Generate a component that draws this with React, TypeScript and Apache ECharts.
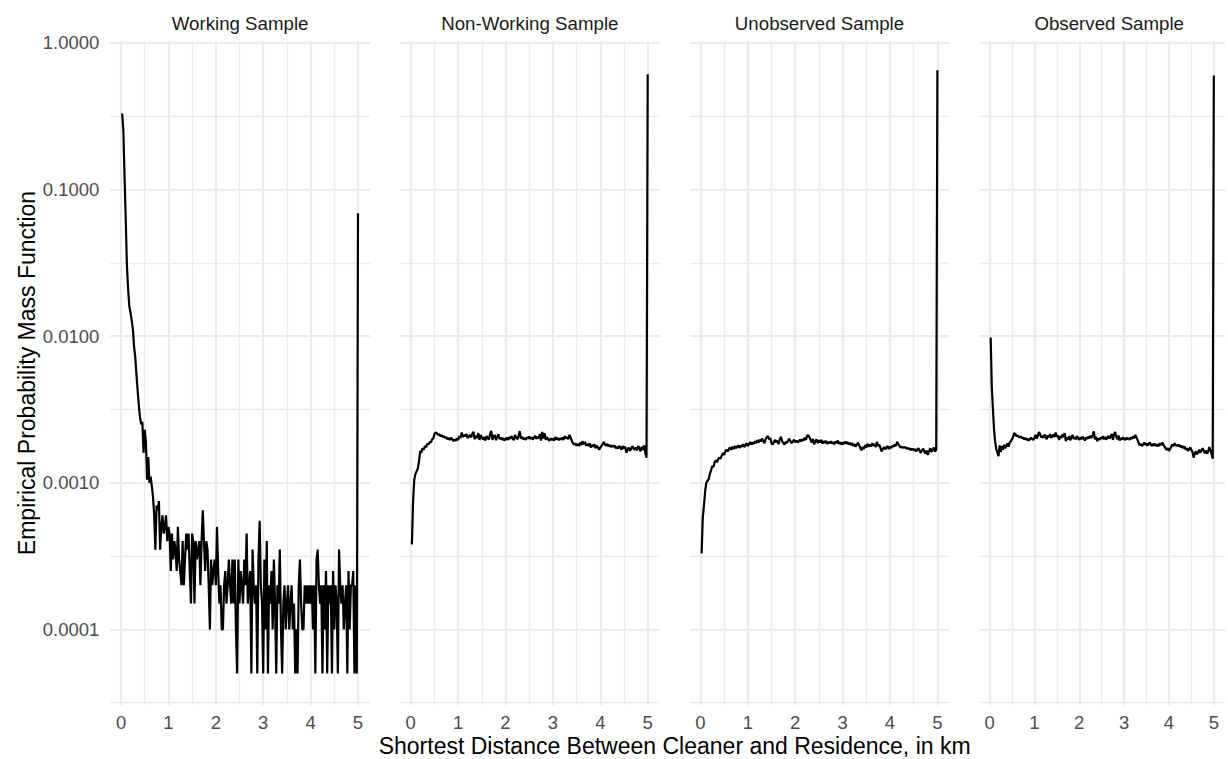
import React, { useEffect, useRef } from "react";
import * as echarts from "echarts";

// ---------- data ----------
const PANELS = ["Working Sample", "Non-Working Sample", "Unobserved Sample", "Observed Sample"];
const BIN_WIDTH = 0.025; // km, bin k sits at x = k * BIN_WIDTH (last bin = 5 km, capped mass)
const X_TICKS = [0, 1, 2, 3, 4, 5];
const Y_TICKS = [1, 0.1, 0.01, 0.001, 0.0001];

const working = [
  0.33, 0.25, 0.12, 0.062, 0.03, 0.021, 0.016, 0.0145, 0.0128, 0.0112,
  0.0085, 0.0072, 0.0055, 0.0043, 0.0034, 0.0028, 0.0025, 0.0026, 0.0016, 0.0023,
  0.0019, 0.00105, 0.0015, 0.001, 0.0011, 0.00095, 0.0008, 0.0006, 0.00035, 0.0007,
  0.00065, 0.00075, 0.00035, 0.0005, 0.0006, 0.00045, 0.0005, 0.0006, 0.0004, 0.0005,
  0.00045, 0.00025, 0.00045, 0.0003, 0.0004, 0.00035, 0.00025, 0.0005, 0.0003, 0.00025,
  0.0002, 0.0004, 0.0002, 0.0003, 0.00045, 0.00035, 0.00045, 0.00025, 0.00015, 0.00045,
  0.0004, 0.00015, 0.0004, 0.0003, 0.00035, 0.0004, 0.0002, 0.0004, 0.00065, 0.0004,
  0.00025, 0.0004, 0.00035, 0.0002, 0.0001, 0.0003, 0.0002, 0.00025, 0.0003, 0.0002,
  0.0005, 0.00025, 0.00015, 0.0002, 0.0001, 0.0001, 0.0002, 0.00025, 0.00015, 0.0002,
  0.0003, 0.0002, 0.00015, 0.0003, 0.00015, 0.0003, 0.0001, 0.00005, 0.0003, 0.00015,
  0.00025, 0.0002, 0.00015, 0.0003, 0.0002, 0.00045, 0.00015, 0.0002, 0.00025, 0.00005,
  0.00035, 0.0002, 0.00015, 0.0002, 0.00005, 0.0003, 0.00055, 0.0002, 0.00015, 0.00005,
  0.0003, 0.0001, 0.0004, 0.00005, 0.0002, 0.00015, 0.00025, 0.0001, 0.0003, 0.00015,
  0.00005, 0.0002, 0.00015, 0.00035, 0.0001, 0.00005, 0.00015, 0.0002, 0.0001, 0.00015,
  0.0002, 0.0001, 0.00015, 0.0002, 0.0001, 0.00015, 0.00005, 0.0001, 0.00005, 0.0002,
  0.0003, 0.00015, 0.0001, 0.0001, 0.0002, 0.00015, 0.0002, 0.00015, 0.0002, 0.00015,
  0.0002, 0.0001, 0.0002, 0.00005, 0.0003, 0.00035, 0.0002, 0.00015, 0.0002, 0.00005,
  0.0002, 0.0001, 0.00025, 0.00005, 0.0002, 0.00015, 0.0002, 0.00005, 0.00025, 0.0001,
  0.0002, 0.00015, 0.00005, 0.00035, 0.0002, 0.00015, 0.0002, 0.0001, 0.00015, 0.0002,
  0.00005, 0.00025, 0.0001, 0.0002, 0.0002, 0.00025, 0.00005, 0.0002, 0.00005, 0.069,
];

const nonWorking = [
  0.00038, 0.00075, 0.00105, 0.00115, 0.0012, 0.00125, 0.0014, 0.00165, 0.0016, 0.00172,
  0.00168, 0.00178, 0.00175, 0.00185, 0.00182, 0.0019, 0.00188, 0.00198, 0.002, 0.00215,
  0.0022, 0.00218, 0.00212, 0.00215, 0.00208, 0.00212, 0.00205, 0.00208, 0.00202, 0.00205,
  0.00198, 0.00202, 0.00196, 0.00203, 0.00198, 0.00192, 0.00197, 0.00194, 0.002, 0.00196,
  0.00208, 0.00202, 0.0022, 0.00205, 0.00212, 0.00208, 0.00215, 0.00202, 0.00206, 0.00212,
  0.00204, 0.00216, 0.00222, 0.00198, 0.0021, 0.00202, 0.00218, 0.00196, 0.00212, 0.00203,
  0.00198, 0.00205, 0.00194, 0.00208, 0.00202, 0.00197, 0.00215, 0.00226, 0.00196, 0.00208,
  0.00212, 0.00195, 0.00206, 0.00214, 0.00198, 0.00204, 0.00196, 0.00202, 0.00194, 0.00198,
  0.00203, 0.00196, 0.00205, 0.00199, 0.00208, 0.00201, 0.00195, 0.00212, 0.00204, 0.00198,
  0.00208, 0.00225, 0.002, 0.00206, 0.00198, 0.00202, 0.00196, 0.00205, 0.002, 0.00207,
  0.00199, 0.00204, 0.00197, 0.00203, 0.00209, 0.00199, 0.00206, 0.00201, 0.00215, 0.00194,
  0.00222, 0.002, 0.00218, 0.00196, 0.00205, 0.00198, 0.00193, 0.00201, 0.00196, 0.00199,
  0.00194, 0.00205, 0.00198, 0.00202, 0.00195, 0.00201, 0.00197, 0.00203, 0.00196, 0.00208,
  0.00201, 0.00204, 0.00198, 0.00212, 0.00203, 0.00193, 0.00186, 0.00182, 0.00185, 0.00179,
  0.00184, 0.00178, 0.00188, 0.00181, 0.00192, 0.00183, 0.0019, 0.00179, 0.00184, 0.00178,
  0.00186, 0.00174, 0.00181, 0.00176, 0.00183, 0.00172, 0.00179, 0.00175, 0.00168, 0.00174,
  0.00178, 0.00184, 0.0019, 0.00182, 0.00179, 0.00184, 0.00177, 0.00181, 0.00175, 0.00179,
  0.00176, 0.0018, 0.00172, 0.00176, 0.00171, 0.00178, 0.00174, 0.00168, 0.00178, 0.00172,
  0.00176, 0.0016, 0.00168, 0.00174, 0.00165, 0.0017, 0.00178, 0.00172, 0.00168, 0.00174,
  0.00166, 0.00178, 0.00172, 0.00164, 0.00176, 0.00168, 0.0018, 0.0016, 0.00148, 0.61,
];

const unobserved = [
  0.00033, 0.00058, 0.0007, 0.00088, 0.001, 0.00103, 0.00106, 0.00115, 0.00122, 0.0013,
  0.00128, 0.00138, 0.00142, 0.00138, 0.00145, 0.00148, 0.00146, 0.00153, 0.0016, 0.00155,
  0.00164, 0.00168, 0.00163, 0.0017, 0.00174, 0.00168, 0.00176, 0.0017, 0.00178, 0.00172,
  0.00176, 0.0018, 0.00173, 0.00179, 0.00176, 0.00183, 0.00175, 0.00181, 0.00186, 0.00178,
  0.00183, 0.0019, 0.00182, 0.00188, 0.00184, 0.00192, 0.00186, 0.00195, 0.00188, 0.00197,
  0.00191, 0.002, 0.00193, 0.00186, 0.00198, 0.00204, 0.00208, 0.00198, 0.00202, 0.00186,
  0.00182, 0.0019, 0.00196, 0.00188, 0.00194, 0.00183, 0.00199, 0.00206, 0.00192, 0.00186,
  0.00182, 0.0019, 0.00187, 0.00194, 0.002, 0.00192, 0.00186, 0.00191, 0.00197, 0.00189,
  0.00194, 0.00188, 0.00192, 0.00197, 0.00191, 0.00198, 0.00194, 0.00203, 0.00196, 0.00208,
  0.00212, 0.00204, 0.00196, 0.00188, 0.00199, 0.00183, 0.00192, 0.00198, 0.00186, 0.00195,
  0.00188, 0.00196, 0.00185, 0.00192, 0.00187, 0.00193, 0.00184, 0.0019, 0.00186, 0.00192,
  0.00185, 0.00189, 0.00183, 0.00191, 0.00186, 0.00194, 0.00184, 0.00189, 0.00182, 0.00188,
  0.00184, 0.00191, 0.00185, 0.0019, 0.00183, 0.00187, 0.00181, 0.00186, 0.00178, 0.00184,
  0.00176, 0.00182, 0.00188, 0.0018, 0.00172, 0.00166, 0.00176, 0.0017, 0.00181, 0.00174,
  0.00184, 0.00176, 0.00182, 0.00177, 0.00186, 0.00179, 0.00183, 0.00175, 0.0019, 0.00178,
  0.00182, 0.00172, 0.00164, 0.00171, 0.00175, 0.00169, 0.00174, 0.00178, 0.0017, 0.00176,
  0.00173, 0.00179, 0.00176, 0.00182, 0.00178, 0.0019, 0.00184, 0.00178, 0.00174, 0.00176,
  0.00173, 0.00175, 0.00174, 0.00171, 0.00173, 0.00169, 0.00172, 0.00167, 0.00171, 0.00166,
  0.0017, 0.00164, 0.00168, 0.00172, 0.00165, 0.0016, 0.00167, 0.00171, 0.00163, 0.00158,
  0.00166, 0.00155, 0.00165, 0.00172, 0.00162, 0.00168, 0.00174, 0.00163, 0.00168, 0.65,
];

const observed = [
  0.0098, 0.0045, 0.0032, 0.0023, 0.0019, 0.0017, 0.0016, 0.00152, 0.0018, 0.00162,
  0.00178, 0.00168, 0.00182, 0.00172, 0.00178, 0.00186, 0.00176, 0.00188, 0.00192, 0.00198,
  0.00205, 0.00218, 0.00215, 0.00208, 0.0021, 0.00206, 0.00204, 0.00207, 0.00201, 0.00203,
  0.00198, 0.00202, 0.00196, 0.00199, 0.00194, 0.00198, 0.00203, 0.00199, 0.00196, 0.00203,
  0.00212, 0.002, 0.00208, 0.00222, 0.00215, 0.00204, 0.00209, 0.00202, 0.00213, 0.00206,
  0.00198, 0.00211, 0.00204, 0.00215, 0.00202, 0.00208, 0.00213, 0.00205, 0.0022, 0.00206,
  0.0021, 0.00196, 0.00208, 0.00202, 0.00214, 0.00205, 0.00218, 0.00192, 0.00204, 0.00197,
  0.00208, 0.00195, 0.00203, 0.00212, 0.00199, 0.00205, 0.00198, 0.00208, 0.00201, 0.00196,
  0.00204, 0.00198, 0.00206, 0.00201, 0.00194, 0.00204, 0.00199, 0.00206, 0.00201, 0.00209,
  0.00202, 0.00212, 0.00224, 0.00198, 0.00206, 0.00192, 0.00201, 0.00196, 0.00204, 0.00199,
  0.00208, 0.00198, 0.00205, 0.00197, 0.00203, 0.00209, 0.002, 0.00207, 0.00215, 0.00196,
  0.00213, 0.00222, 0.00206, 0.00198, 0.0021, 0.00194, 0.00201, 0.00197, 0.00204, 0.00199,
  0.00196, 0.00203, 0.00198, 0.00202, 0.00196, 0.00204, 0.00199, 0.00208, 0.00201, 0.00212,
  0.00204, 0.00196, 0.00186, 0.0018, 0.00184, 0.00178, 0.00183, 0.00188, 0.00181, 0.00186,
  0.00179, 0.00184, 0.00188, 0.00181, 0.00178, 0.00185, 0.00179, 0.00184, 0.00177, 0.00183,
  0.00178, 0.00186, 0.0018, 0.00188, 0.00182, 0.00176, 0.00172, 0.00168, 0.00172, 0.00165,
  0.0017, 0.00176, 0.00182, 0.00178, 0.00186, 0.00181, 0.00178, 0.00182, 0.00177, 0.0018,
  0.00174, 0.00178, 0.00172, 0.00176, 0.00168, 0.00172, 0.00165, 0.0017, 0.00174, 0.00167,
  0.00162, 0.00148, 0.00158, 0.00164, 0.00156, 0.00162, 0.00168, 0.0016, 0.00166, 0.00172,
  0.00165, 0.00159, 0.00166, 0.00158, 0.00164, 0.00175, 0.00166, 0.00158, 0.00146, 0.6,
];

const SERIES_VALUES = [working, nonWorking, unobserved, observed];

// ---------- layout / style ----------
const FONT = "'Liberation Sans', Arial, Helvetica, sans-serif";
const GRID_COLOR = "#EBEBEB";
const MAJOR_W = 2.2;
const MINOR_W = 1.4;
const X_MIN = -0.224;
const X_MAX = 5.249;
const Y_MIN = 3.05e-5;
const Y_MAX = 1.03;
const GRID_LEFT = 110.4;
const GRID_STEP = 289.7;
const GRID_W = 259.4;
const GRID_TOP = 41;
const GRID_H = 664;

function isNear(v: number, t: number) {
  return Math.abs(v - t) <= Math.abs(t) * 1e-6 + 1e-12;
}

function buildOption() {
  const grids = PANELS.map((_, k) => ({
    left: GRID_LEFT + k * GRID_STEP,
    top: GRID_TOP,
    width: GRID_W,
    height: GRID_H,
  }));

  const xAxes = PANELS.map((_, k) => ({
    type: "value",
    gridIndex: k,
    min: X_MIN,
    max: X_MAX,
    splitNumber: 5,
    axisLine: { show: false },
    axisTick: { show: false },
    axisLabel: {
      show: true,
      margin: 8,
      color: "#4D4D4D",
      fontSize: 18.5,
      fontFamily: FONT,
      formatter: (v: number) => {
        const t = X_TICKS.find((x) => Math.abs(x - v) < 1e-6);
        return t === undefined ? "" : String(t);
      },
    },
    splitLine: {
      show: true,
      showMinLine: false,
      showMaxLine: false,
      lineStyle: { color: GRID_COLOR, width: MAJOR_W },
    },
    minorTick: { show: false, splitNumber: 2 },
    minorSplitLine: { show: true, lineStyle: { color: GRID_COLOR, width: MINOR_W } },
  }));

  const yAxes: any[] = [];
  PANELS.forEach((_, k) => {
    yAxes.push({
      type: "log",
      logBase: 10,
      gridIndex: k,
      min: Y_MIN,
      max: Y_MAX,
      axisLine: { show: false },
      axisTick: { show: false },
      axisLabel: {
        show: k === 0,
        margin: 11,
        color: "#4D4D4D",
        fontSize: 18.5,
        fontFamily: FONT,
        formatter: (v: number) => {
          const t = Y_TICKS.find((y) => isNear(v, y));
          return t === undefined ? "" : t.toFixed(4);
        },
      },
      splitLine: {
        show: true,
        showMinLine: false,
        showMaxLine: false,
        lineStyle: { color: GRID_COLOR, width: MAJOR_W },
      },
    });
    // half-decade minor grid lines (ggplot-style minor breaks on a log scale)
    yAxes.push({
      type: "value",
      gridIndex: k,
      min: Math.log10(Y_MIN),
      max: Math.log10(Y_MAX),
      splitNumber: 9,
      axisLine: { show: false },
      axisTick: { show: false },
      axisLabel: { show: false },
      splitLine: {
        show: true,
        showMinLine: false,
        showMaxLine: false,
        lineStyle: { color: GRID_COLOR, width: MINOR_W },
      },
    });
  });

  const series = SERIES_VALUES.map((vals, k) => ({
    name: PANELS[k],
    type: "line",
    xAxisIndex: k,
    yAxisIndex: 2 * k,
    data: vals.map((v, i) => [(i + 1) * BIN_WIDTH, v]),
    showSymbol: false,
    symbol: "none",
    lineStyle: { color: "#000000", width: 2.2 },
    itemStyle: { color: "#000000" },
    silent: true,
    z: 5,
  }));

  const stripTitles = PANELS.map((p, k) => ({
    type: "text",
    x: GRID_LEFT + k * GRID_STEP + GRID_W / 2,
    y: 23,
    silent: true,
    style: {
      text: p,
      textAlign: "center",
      textVerticalAlign: "middle",
      fill: "#1A1A1A",
      fontSize: 18.7,
      fontFamily: FONT,
    },
  }));

  const panelsLeft = GRID_LEFT;
  const panelsRight = GRID_LEFT + 3 * GRID_STEP + GRID_W;

  return {
    animation: false,
    backgroundColor: "#ffffff",
    grid: grids,
    xAxis: xAxes,
    yAxis: yAxes,
    series,
    graphic: [
      ...stripTitles,
      {
        type: "text",
        x: (panelsLeft + panelsRight) / 2,
        y: 746,
        silent: true,
        style: {
          text: "Shortest Distance Between Cleaner and Residence, in km",
          textAlign: "center",
          textVerticalAlign: "middle",
          fill: "#000000",
          fontSize: 23,
          fontFamily: FONT,
        },
      },
      {
        type: "text",
        x: 27,
        y: GRID_TOP + GRID_H / 2,
        rotation: Math.PI / 2,
        silent: true,
        style: {
          text: "Empirical Probability Mass Function",
          textAlign: "center",
          textVerticalAlign: "middle",
          fill: "#000000",
          fontSize: 23,
          fontFamily: FONT,
        },
      },
    ],
  };
}

export default function App() {
  const ref = useRef<HTMLDivElement>(null);
  useEffect(() => {
    if (!ref.current) return;
    const chart = echarts.init(ref.current, undefined, { renderer: "svg" });
    chart.setOption(buildOption() as any);
    return () => chart.dispose();
  }, []);
  return (
    <div
      ref={ref}
      style={{ position: "absolute", left: 0, top: 0, width: 1228, height: 759, background: "#ffffff" }}
    />
  );
}
